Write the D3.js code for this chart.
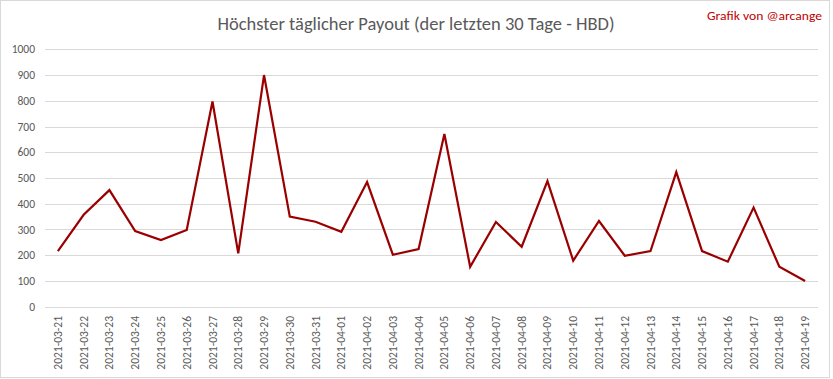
<!DOCTYPE html>
<html><head><meta charset="utf-8">
<script src="https://cdn.jsdelivr.net/npm/d3@7"></script>
<style>body{margin:0;background:#fff}svg{display:block}</style>
</head><body>
<script>
const dates = ["2021-03-21","2021-03-22","2021-03-23","2021-03-24","2021-03-25","2021-03-26","2021-03-27","2021-03-28","2021-03-29","2021-03-30","2021-03-31","2021-04-01","2021-04-02","2021-04-03","2021-04-04","2021-04-05","2021-04-06","2021-04-07","2021-04-08","2021-04-09","2021-04-10","2021-04-11","2021-04-12","2021-04-13","2021-04-14","2021-04-15","2021-04-16","2021-04-17","2021-04-18","2021-04-19"];
const payout = [216,357,453,294,259,298,797,207,900,350,330,291,484,202,224,671,155,329,233,488,179,333,198,216,523,216,175,385,155,100];
const yTicks = [0,100,200,300,400,500,600,700,800,900,1000];
const title = "Höchster täglicher Payout (der letzten 30 Tage - HBD)";
const credit = "Grafik von @arcange";

const W = 833, H = 379;
const svg = d3.select("body").append("svg").attr("width", W).attr("height", H);
svg.append("rect").attr("x",0.5).attr("y",0.5).attr("width",829).attr("height",377)
  .attr("fill","#fff").attr("stroke","#d9d9d9");

const x = d3.scaleBand().domain(dates).range([45, 818]);
const y = d3.scaleLinear().domain([0,1000]).range([306.7, 49.3]);
const font = "Calibri, Carlito, 'Liberation Sans Narrow', 'Open Sans', sans-serif";

// gridlines
svg.append("g").selectAll("line").data(yTicks).join("line")
  .attr("x1",45).attr("x2",818)
  .attr("y1",d=>Math.round(y(d))+0.5).attr("y2",d=>Math.round(y(d))+0.5)
  .attr("stroke","#d9d9d9").attr("stroke-width",1);

// y axis labels
const yAxis = d3.axisLeft(y).tickValues(yTicks).tickFormat(d3.format("d")).tickSize(0).tickPadding(0);
const gy = svg.append("g").attr("transform","translate(35,0)").call(yAxis);
gy.select(".domain").remove();
gy.selectAll("text").attr("font-family",font).attr("font-size","11.5px").attr("fill","#595959");

// x axis labels
const xAxis = d3.axisBottom(x).tickSize(0).tickPadding(0);
const gx = svg.append("g").attr("transform","translate(0,316)").call(xAxis);
gx.select(".domain").remove();
gx.selectAll("text").attr("font-family",font).attr("font-size","11.5px").attr("fill","#595959")
  .attr("transform","rotate(-90)").attr("text-anchor","end").attr("dy","0.35em").attr("x",0).attr("y",0);

// line
const line = d3.line().x((d,i)=>x(dates[i]) + x.bandwidth()/2).y(d=>y(d));
svg.append("path").datum(payout).attr("d",line).attr("fill","none")
  .attr("stroke","#9b0000").attr("stroke-width",2.2).attr("stroke-linejoin","miter");

// title
svg.append("text").attr("x",416).attr("y",30).attr("text-anchor","middle")
  .attr("font-family",font).attr("font-size","19px").attr("fill","#595959")
  .attr("textLength",397).attr("lengthAdjust","spacingAndGlyphs").text(title);
svg.append("text").attr("x",822).attr("y",20).attr("text-anchor","end")
  .attr("font-family",font).attr("font-size","12.5px").attr("fill","#c00000")
  .attr("textLength",115).attr("lengthAdjust","spacingAndGlyphs").text(credit);
</script>
</body></html>
